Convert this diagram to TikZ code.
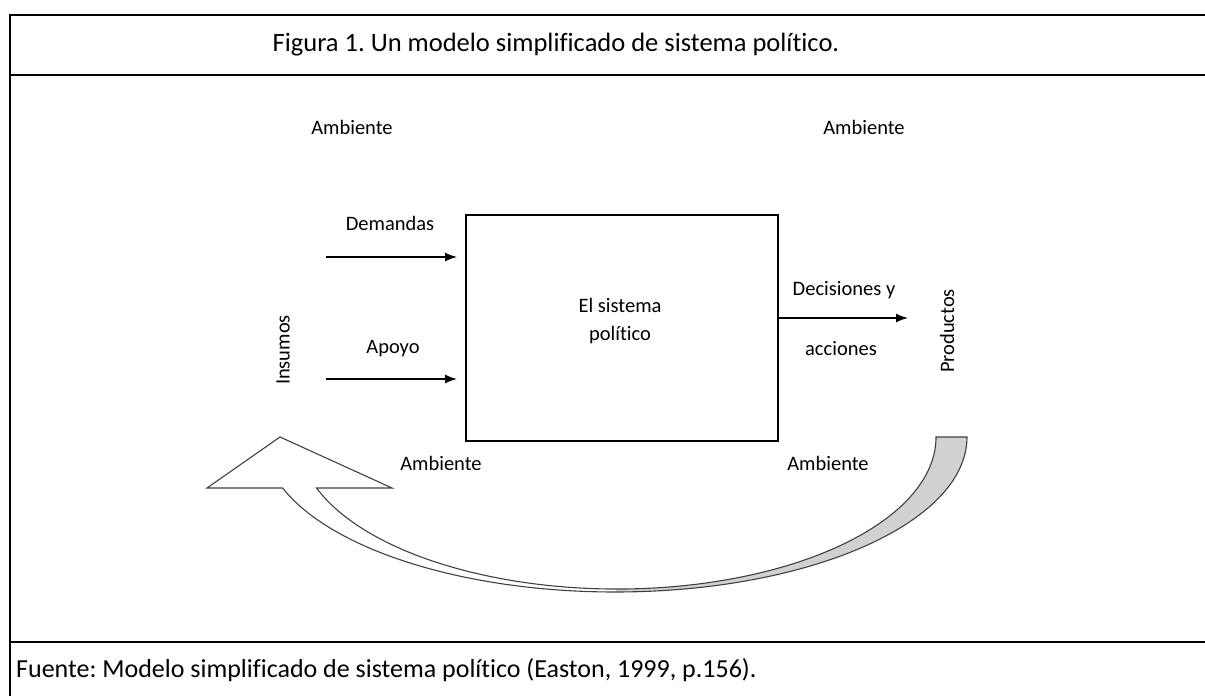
\documentclass[tikz,border=0pt]{standalone}
\usepackage{fontspec}
\setmainfont{Carlito}[Ligatures=NoCommon]
\usetikzlibrary{arrows.meta}
\frenchspacing
\begin{document}
\begin{tikzpicture}[x=1pt,y=1pt,
  lbl/.style={font=\fontsize{20.5}{25}\selectfont, inner sep=0pt, text=black},
  big/.style={font=\fontsize{26.5}{32}\selectfont, inner sep=0pt},
  tbl/.style={line width=2pt, black},
  flow/.style={line width=1.4pt, -{Latex[length=12pt,width=9pt]}},
  sysbox/.style={draw, line width=1.4pt, minimum width=312pt, minimum height=226pt, inner sep=0pt},
  curve/.style={draw=black!75, line width=1.1pt, line join=miter},
  back/.style={fill=black!18}
]
\useasboundingbox (0,0) rectangle (1205,696);
% table frame
\draw[tbl] (1205,681) -- (10,681) -- (10,0);
\draw[tbl] (10,621) -- (1205,621);
\draw[tbl] (10,54) -- (1205,54);
\node[big] (title) at (556,651) {Figura 1. Un modelo simplificado de sistema político.};
\node[big, font=\fontsize{26}{32}\selectfont, anchor=west] (source) at (16,26) {Fuente: Modelo simplificado de sistema político (Easton, 1999, p.156).};
% system box
\node[sysbox] (sys) at (622,368) {};
\node[lbl, align=center, font=\fontsize{20.5}{28}\selectfont] (systxt) at (620,375) {El sistema\\político};
% inputs
\coordinate (dstart) at (326,439);
\coordinate (dend) at (457,439);
\coordinate (astart) at (326,317);
\coordinate (aend) at (457,317);
\draw[flow] (dstart) -- (dend);
\draw[flow] (astart) -- (aend);
\node[lbl] (dem) at (390,473) {Demandas};
\node[lbl] (apo) at (393,347) {Apoyo};
\node[lbl, rotate=90] (ins) at (283,346) {Insumos};
% outputs
\coordinate (oend) at (908,378);
\draw[flow] (sys.east |- oend) -- (oend);
\node[lbl] (dec) at (844,406) {Decisiones y};
\node[lbl] (acc) at (841,347) {acciones};
\node[lbl, rotate=90] (prod) at (947,365) {Productos};
% environment
\node[lbl] (amb1) at (352,569) {Ambiente};
\node[lbl] (amb2) at (864,569) {Ambiente};
\node[lbl] (amb3) at (441,233) {Ambiente};
\node[lbl] (amb4) at (828,233) {Ambiente};
% feedback curved arrow
\fill[back] (967,259) arc[start angle=0,end angle=-90,x radius=352pt,y radius=155pt]
  -- (617,107) arc[start angle=-90,end angle=0,x radius=319pt,y radius=152pt] -- cycle;
\draw[curve] (967,259) arc[start angle=0,end angle=-160.8,x radius=352pt,y radius=155pt]
  -- (207,208) -- (280,259) -- (392,208) -- (316.5,208)
  arc[start angle=-160.4,end angle=0,x radius=319pt,y radius=152pt] -- cycle;
\end{tikzpicture}
\end{document}
